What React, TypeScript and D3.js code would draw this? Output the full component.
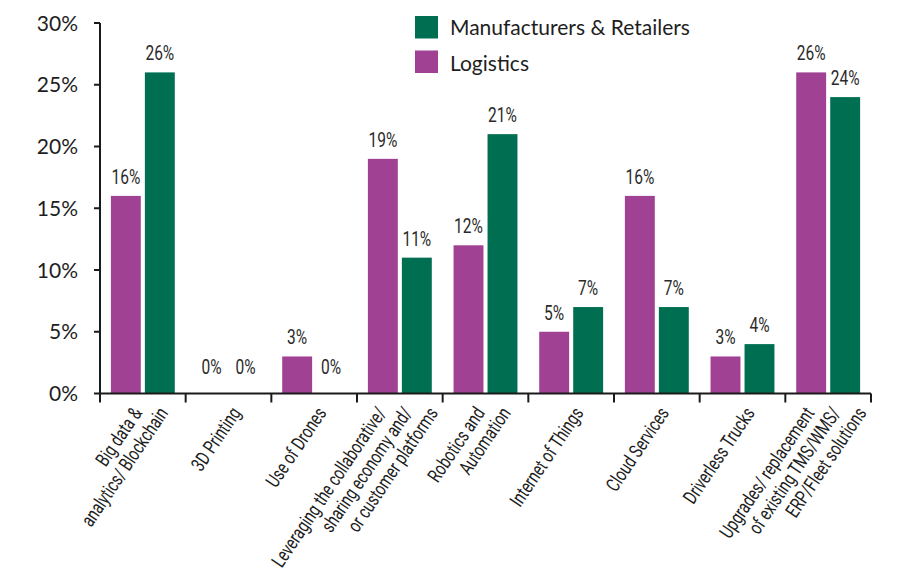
import React from "react";
import * as d3 from "d3";

const categories: string[][] = [
  ["Big data &", "analytics/ Blockchain"],
  ["3D Printing"],
  ["Use of Drones"],
  ["Leveraging the collaborative/", "sharing economy and/", "or customer platforms"],
  ["Robotics and", "Automation"],
  ["Internet of Things"],
  ["Cloud Services"],
  ["Driverless Trucks"],
  ["Upgrades/ replacement", "of existing TMS/WMS/", "ERP/Fleet solutions"],
];
const logistics = [16, 0, 3, 19, 12, 5, 16, 3, 26];
const manufacturers = [26, 0, 0, 11, 21, 7, 7, 4, 24];
const yTicks = [0, 5, 10, 15, 20, 25, 30];
const seriesNames = ["Logistics", "Manufacturers & Retailers"];
const legendOrder = ["Manufacturers & Retailers", "Logistics"];

const COLORS: Record<string, string> = {
  "Logistics": "#A04193",
  "Manufacturers & Retailers": "#006F51",
};

export default function App() {
  const W = 897, H = 575;
  const left = 100, right = 871, top = 23, bottom = 393.5;
  const idx = categories.map((_, i) => String(i));
  const x0 = d3.scaleBand<string>().domain(idx).range([left, right]).padding(0);
  const x1 = d3
    .scaleBand<string>()
    .domain(seriesNames)
    .range([0, x0.bandwidth()])
    .paddingInner(0.12)
    .paddingOuter(0.32);
  const y = d3.scaleLinear().domain([0, 30]).range([bottom, top]);
  const data = [logistics, manufacturers];
  const angle = -56;
  const axisColor = "#1a1a1a";
  const textColor = "#1e1e1e";
  const condensed = "Roboto, 'DejaVu Sans', sans-serif";

  return (
    <svg
      width={W}
      height={H}
      style={{ position: "absolute", left: 0, top: 0, background: "#fff" }}
    >
      {/* legend */}
      {legendOrder.map((name, i) => (
        <g key={name}>
          <rect x={415} y={16 + i * 34.5} width={23} height={22.5} fill={COLORS[name]} />
          <text
            x={450}
            y={34.5 + i * 36.5}
            fontFamily="Lato, 'Open Sans', sans-serif"
            fontSize={21}
            fill={textColor}
          >
            {name}
          </text>
        </g>
      ))}

      {/* bars */}
      {seriesNames.map((s, si) =>
        data[si].map((v, ci) => {
          const bx = (x0(String(ci)) as number) + (x1(s) as number);
          return (
            <rect
              key={s + ci}
              x={bx}
              y={y(v)}
              width={x1.bandwidth()}
              height={bottom - y(v)}
              fill={COLORS[s]}
            />
          );
        })
      )}

      {/* value labels */}
      {seriesNames.map((s, si) =>
        data[si].map((v, ci) => {
          const cx = (x0(String(ci)) as number) + (x1(s) as number) + x1.bandwidth() / 2;
          const ty = v === 0 ? y(v) - 20 : y(v) - 12;
          return (
            <text
              key={"l" + s + ci}
              transform={`translate(${cx},${ty}) scale(0.74,1)`}
              textAnchor="middle"
              fontFamily={condensed}
              fontSize={21}
              fill="#2a2a2a"
            >
              {v + "%"}
            </text>
          );
        })
      )}

      {/* y axis */}
      <line x1={left} x2={left} y1={top} y2={bottom} stroke={axisColor} strokeWidth={2} />
      {yTicks.map((t) => (
        <g key={t}>
          <line x1={left - 6} x2={left} y1={y(t)} y2={y(t)} stroke={axisColor} strokeWidth={2} />
          <text
            x={78}
            y={y(t) + 7.5}
            textAnchor="end"
            fontFamily="Lato, 'Open Sans', sans-serif"
            fontSize={21}
            fill={textColor}
          >
            {t + "%"}
          </text>
        </g>
      ))}

      {/* x axis */}
      <line x1={left} x2={right} y1={bottom} y2={bottom} stroke={axisColor} strokeWidth={2} />
      {[...idx.map((i) => x0(i) as number), right].map((xx, i) => (
        <line key={"t" + i} x1={xx} x2={xx} y1={bottom} y2={bottom + 9} stroke={axisColor} strokeWidth={2} />
      ))}

      {/* category labels */}
      {categories.map((lines, ci) => {
        const cx = (x0(String(ci)) as number) + x0.bandwidth() / 2;
        const n = lines.length;
        return lines.map((line, li) => {
          const px = cx + 13 + (li - (n - 1) / 2) * 26;
          const py = 413;
          return (
            <text
              key={"c" + ci + "-" + li}
              transform={`translate(${px},${py}) rotate(${angle}) scale(0.75,1)`}
              textAnchor="end"
              fontFamily={condensed}
              fontSize={19.5}
              fill={textColor}
            >
              {line}
            </text>
          );
        });
      })}
    </svg>
  );
}
